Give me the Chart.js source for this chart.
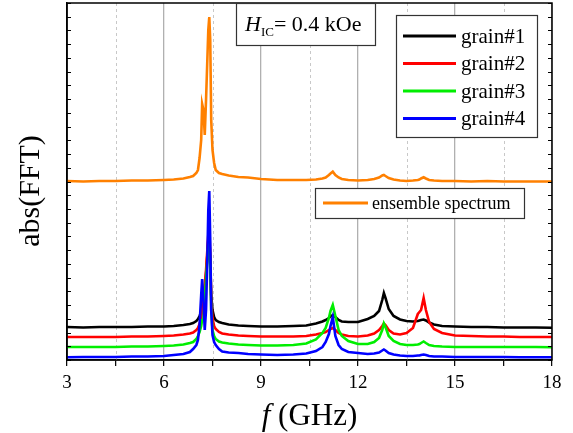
<!DOCTYPE html>
<html lang="en">
<head>
<meta charset="UTF-8">
<title>abs(FFT) spectra</title>
<script src="https://cdn.jsdelivr.net/npm/chart.js"></script>
<style>
  body { margin: 0; background: #fff; }
  #wrap { width: 573px; height: 433px; }
</style>
</head>
<body>
<div id="wrap"><canvas id="fft" width="573" height="433"></canvas></div>
<script>
// frequency grid (GHz), denser around the resonances
const freq = [3.0, 3.5, 4.0, 4.5, 5.0, 5.5, 6.0, 6.3, 6.6, 6.8,
  6.9, 7.0, 7.05, 7.1, 7.15, 7.18, 7.22, 7.26, 7.3, 7.34,
  7.37, 7.40, 7.43, 7.46, 7.5, 7.55, 7.6, 7.7, 7.8, 8.0,
  8.3, 8.6, 9.0, 9.5, 10.0, 10.4, 10.7, 10.9, 11.0, 11.1,
  11.15, 11.22, 11.3, 11.4, 11.5, 11.7, 12.0, 12.3, 12.5, 12.65,
  12.75, 12.8, 12.85, 12.95, 13.1, 13.3, 13.5, 13.7, 13.85, 13.9,
  13.95, 14.03, 14.1, 14.2, 14.35, 14.6, 15.0, 15.5, 16.0, 16.5,
  17.0, 17.5, 18.0];

// abs(FFT), arbitrary units (curves are offset vertically)
const ensemble = [179, 178.5, 179, 179, 179.5, 179.5, 180, 180.5, 181.5, 183,
  184, 187, 190, 202, 220, 256, 250, 225, 260, 300,
  330, 343, 320, 240, 210, 197, 190, 187, 186, 184.5,
  183, 182.5, 181, 180, 180, 180, 180.5, 181.5, 182.5, 185,
  186.5, 188.3, 185, 182.5, 181, 180, 179.5, 180, 181, 182.5,
  184.5, 185, 184, 182, 180.5, 179.5, 179, 179.5, 180, 180.5,
  181.5, 182.7, 181.5, 180, 179.5, 179, 179, 178.5, 179, 178.5,
  178.5, 178.5, 178.5];
const grain1 = [33, 32.5, 33, 33, 33, 33.5, 33.5, 34, 35, 36,
  37, 39, 41, 44, 48, 55, 60, 70, 85, 105,
  120, 125, 100, 65, 50, 43, 40, 38, 37, 35.5,
  34.5, 34, 33.5, 33.5, 34, 34.5, 36.5, 38.5, 40, 42,
  43.5, 45, 43, 40, 38.5, 38, 38, 41, 44, 49,
  60, 67, 62, 51, 44, 40.5, 39, 38.5, 39, 39.5,
  40, 40.5, 39.5, 37.5, 35.5, 34, 33.5, 33, 33, 32.5,
  32.5, 32.5, 32.3];
const grain2 = [23, 23, 23, 23, 23.5, 23.5, 24, 24.5, 25.5, 26.5,
  27.5, 30, 32, 36, 42, 50, 60, 75, 90, 110,
  125, 132, 105, 60, 42, 34, 31, 28, 26.5, 25.5,
  24.5, 24, 23.5, 23.5, 23.5, 24, 25.5, 27, 28, 30,
  31, 32, 30, 27, 25.5, 24, 23.5, 24.5, 26.5, 30,
  34, 36.5, 35, 30, 26.5, 25.5, 27, 32, 46, 48,
  50, 62, 50, 38, 31, 27, 24.5, 24, 23.5, 23.5,
  23, 23, 23];
const grain3 = [13, 13, 13, 13, 13.5, 13.5, 14, 14.5, 15.5, 17,
  18, 21, 24, 28, 34, 40, 41, 60, 80, 100,
  115, 120, 95, 50, 30, 24, 21, 18.5, 17.5, 16.5,
  15.5, 15, 14.5, 14.5, 15, 16.5, 20.5, 27, 32, 42,
  49, 55, 44, 30, 24, 19, 16, 16, 18, 22,
  30, 36.5, 33, 24, 19, 16, 15, 15, 15.5, 16,
  17, 18.5, 17, 15, 14, 13.5, 13, 13, 13, 13,
  13, 13, 12.7];
const grain4 = [2.7, 3, 3, 3, 3.5, 3.5, 4, 5, 6, 8,
  11, 15, 20, 35, 65, 81, 60, 30, 50, 100,
  150, 169, 120, 50, 25, 18, 15, 11, 8.5, 7.5,
  7, 6, 5.5, 5, 5.5, 6.5, 9, 13, 18, 26,
  34, 43, 24, 15, 11, 8, 7, 6, 6.5, 7.5,
  9.5, 10.5, 9.5, 7, 5.5, 4.5, 4, 4, 4.5, 4.5,
  5, 5.5, 5, 4, 3.5, 3.5, 3, 3, 3, 3,
  2.7, 2.7, 2.7];

const grainNames = ['grain#1', 'grain#2', 'grain#3', 'grain#4'];
const grainColors = ['#000000', '#ff0000', '#00ee00', '#0000ff'];
const ensembleName = 'ensemble spectrum';
const ensembleColor = '#ff8000';
const xTickLabels = [3, 6, 9, 12, 15, 18];
const xMinorTicks = [4.5, 7.5, 10.5, 13.5, 16.5];

const serif = '"Liberation Serif", "DejaVu Serif", serif';
const pts = arr => arr.map((v, i) => ({ x: freq[i], y: v }));

const grains = [grain1, grain2, grain3, grain4];
const datasets = grains.map((g, i) => ({
  label: grainNames[i],
  data: pts(g),
  borderColor: grainColors[i],
  borderWidth: 2.6,
  pointRadius: 0,
  tension: 0,
  order: 3 - i   // grain#4 drawn on top
}));
datasets.push({
  label: ensembleName,
  data: pts(ensemble),
  borderColor: ensembleColor,
  borderWidth: 2.6,
  pointRadius: 0,
  tension: 0,
  order: 5
});

function mixedText(ctx, parts, x, y) {
  parts.forEach(p => {
    ctx.font = p.font;
    ctx.fillText(p.text, x, y + (p.dy || 0));
    x += ctx.measureText(p.text).width;
  });
}
function mixedWidth(ctx, parts) {
  return parts.reduce((w, p) => { ctx.font = p.font; return w + ctx.measureText(p.text).width; }, 0);
}

// dashed minor grid, frame, inward y ticks, boxes and labels
const decor = {
  id: 'decor',
  beforeDatasetsDraw(chart) {
    const { ctx, chartArea: a, scales: { x } } = chart;
    ctx.save();
    ctx.strokeStyle = '#c8c8c8';
    ctx.lineWidth = 1;
    ctx.setLineDash([3, 3]);
    xMinorTicks.forEach(v => {
      const px = Math.round(x.getPixelForValue(v)) + 0.5;
      ctx.beginPath(); ctx.moveTo(px, a.top); ctx.lineTo(px, a.bottom); ctx.stroke();
    });
    ctx.restore();
  },
  afterDraw(chart) {
    const { ctx, chartArea: a, scales: { y } } = chart;
    ctx.save();
    ctx.strokeStyle = '#000';
    ctx.lineWidth = 1;
    y.ticks.forEach(t => {
      const py = Math.round(y.getPixelForValue(t.value)) + 0.5;
      ctx.beginPath();
      ctx.moveTo(a.left, py); ctx.lineTo(a.left + 4, py);
      ctx.moveTo(a.right - 4, py); ctx.lineTo(a.right, py);
      ctx.stroke();
    });
    ctx.lineWidth = 1.5;
    ctx.strokeRect(a.left, a.top, a.right - a.left, a.bottom - a.top);

    // field annotation
    ctx.fillStyle = '#fff';
    ctx.fillRect(236, 3, 139, 42);
    ctx.lineWidth = 1.2;
    ctx.strokeStyle = '#333';
    ctx.strokeRect(236.5, 3.5, 139, 42);
    ctx.fillStyle = '#000';
    ctx.textBaseline = 'alphabetic';
    mixedText(ctx, [
      { text: 'H', font: 'italic 22px ' + serif },
      { text: 'IC', font: '13px ' + serif, dy: 5 },
      { text: '= 0.4 kOe', font: '22px ' + serif }
    ], 245, 31);

    // grain legend
    ctx.fillStyle = '#fff';
    ctx.fillRect(396, 15, 141, 122);
    ctx.strokeStyle = '#333';
    ctx.strokeRect(396.5, 15.5, 141, 122);
    ctx.textBaseline = 'middle';
    ctx.font = '21px ' + serif;
    grainNames.forEach((n, i) => {
      const ly = 36 + i * 27.5;
      ctx.strokeStyle = grainColors[i];
      ctx.lineWidth = 3;
      ctx.beginPath(); ctx.moveTo(403, ly); ctx.lineTo(456, ly); ctx.stroke();
      ctx.fillStyle = '#000';
      ctx.fillText(n, 461, ly + 1);
    });

    // ensemble legend
    ctx.fillStyle = '#fff';
    ctx.fillRect(315, 188, 209, 30);
    ctx.strokeStyle = '#333';
    ctx.lineWidth = 1.2;
    ctx.strokeRect(315.5, 188.5, 209, 30);
    ctx.strokeStyle = ensembleColor;
    ctx.lineWidth = 3;
    ctx.beginPath(); ctx.moveTo(323, 203); ctx.lineTo(368, 203); ctx.stroke();
    ctx.fillStyle = '#000';
    ctx.font = '18px ' + serif;
    ctx.fillText(ensembleName, 372, 204);

    // axis titles
    const xt = [
      { text: 'f', font: 'italic 31px ' + serif },
      { text: ' (GHz)', font: '31px ' + serif }
    ];
    ctx.textBaseline = 'alphabetic';
    mixedText(ctx, xt, (a.left + a.right) / 2 - mixedWidth(ctx, xt) / 2, 425);
    ctx.translate(31, 191);
    ctx.rotate(-Math.PI / 2);
    ctx.textAlign = 'center';
    ctx.textBaseline = 'middle';
    ctx.font = '30px ' + serif;
    ctx.fillText('abs(FFT)', 0, 0);
    ctx.restore();
  }
};

new Chart(document.getElementById('fft'), {
  type: 'line',
  data: { datasets },
  options: {
    responsive: false,
    animation: false,
    devicePixelRatio: 1,
    layout: { padding: { top: 3, right: 21, left: 0, bottom: 0 } },
    plugins: { legend: { display: false }, tooltip: { enabled: false } },
    scales: {
      x: {
        type: 'linear',
        min: 3, max: 18,
        afterBuildTicks: s => {
          s.ticks = xTickLabels.concat(xMinorTicks).sort((p, q) => p - q).map(v => ({ value: v }));
        },
        afterFit: s => { s.height = 73; },
        ticks: {
          autoSkip: false, maxRotation: 0, padding: 6,
          color: '#000',
          font: { family: serif, size: 19 },
          callback: v => xTickLabels.includes(v) ? String(v) : ''
        },
        grid: {
          color: c => (c.tick && xTickLabels.includes(c.tick.value)) ? '#b0b0b0' : 'rgba(0,0,0,0)',
          lineWidth: 1.3,
          tickColor: '#000',
          tickLength: 6,
          tickWidth: 1.2
        },
        border: { color: '#000', width: 1.5 }
      },
      y: {
        min: 0, max: 357,
        ticks: { display: false, stepSize: 357 / 26 },
        afterFit: s => { s.width = 67; },
        grid: { display: false },
        border: { color: '#000', width: 1.5 }
      }
    }
  },
  plugins: [decor]
});
</script>
</body>
</html>
